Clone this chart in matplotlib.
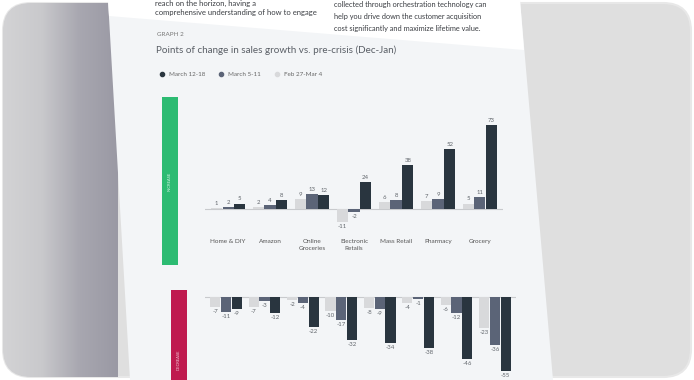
import matplotlib
matplotlib.use("Agg")
import matplotlib.pyplot as plt
import numpy as np
from matplotlib.patches import FancyBboxPatch, Polygon, Rectangle
from matplotlib.colors import LinearSegmentedColormap

plt.rcParams['font.family'] = ['Lato', 'DejaVu Sans']

# ---------------- data ----------------
series_labels = ["March 12-18", "March 5-11", "Feb 27-Mar 4"]
top_categories = ["Home & DIY", "Amazon", "Online\nGroceries", "Electronic\nRetails",
                  "Mass Retail", "Pharmacy", "Grocery"]
top_feb = [1, 2, 9, -11, 6, 7, 5]
top_mar5 = [2, 4, 13, -2, 8, 9, 11]
top_mar12 = [5, 8, 12, 24, 38, 52, 73]

bottom_feb = [-7, -7, -2, -10, -8, -4, -6, -23]
bottom_mar5 = [-11, -3, -4, -17, -9, -1, -12, -36]
bottom_mar12 = [-9, -12, -22, -32, -34, -38, -46, -55]

c_dark = "#29353f"
c_mid = "#5b6477"
c_light = "#d8d9db"
page_bg = "#f3f5f7"
txt = "#60656b"

W, H = 694, 380
fig = plt.figure(figsize=(W / 100, H / 100), dpi=100)
fig.patch.set_facecolor("white")

# background axes in pixel coordinates
bg = fig.add_axes([0, 0, 1, 1])
bg.set_xlim(0, W)
bg.set_ylim(H, 0)
bg.axis("off")

frame = FancyBboxPatch((3, 3), W - 6, H - 6, boxstyle="round,pad=0,rounding_size=28",
                       facecolor="#dfdfdf", edgecolor="#e8e8e8", lw=1.5, zorder=0)
bg.add_patch(frame)
grad = np.linspace(0, 1, 200)[None, :]
cm = LinearSegmentedColormap.from_list("g", ["#d3d3d5", "#c9c9cc", "#a8a7b0", "#9a99a4"])
im = bg.imshow(grad, extent=(3, 118, 377, 3), aspect="auto", cmap=cm, zorder=1)
im.set_clip_path(frame)

# page
page = Polygon([(108, 0), (520, 0), (553, 380), (130, 380)], closed=True,
               facecolor=page_bg, edgecolor="none", zorder=2)
bg.add_patch(page)
header = Polygon([(108, 0), (520, 0), (524, 50), (109, 16)], closed=True,
                 facecolor="white", edgecolor="none", zorder=3)
bg.add_patch(header)

# header text
hc = "#3a3d42"
bg.text(155, 3, "reach on the horizon, having a", fontsize=5.5, color=hc, va="center", zorder=4)
bg.text(155, 12, "comprehensive understanding of how to engage", fontsize=5.5, color=hc,
        va="center", zorder=4)
bg.text(334, 5, "collected through orchestration technology can", fontsize=5.3, color=hc,
        va="center", zorder=4)
bg.text(334, 17, "help you drive down the customer acquisition", fontsize=5.3, color=hc,
        va="center", zorder=4)
bg.text(334, 29, "cost significantly and maximize lifetime value.", fontsize=5.3, color=hc,
        va="center", zorder=4)

bg.text(157, 34, "GRAPH 2", fontsize=4.5, color="#777", va="center", zorder=4)
bg.text(156, 50, "Points of change in sales growth vs. pre-crisis (Dec-Jan)", fontsize=7.1,
        color="#5a5f66", va="center", zorder=4)

# legend
leg_x = [162, 221, 277]
leg_c = [c_dark, c_mid, c_light]
for x, c, lab in zip(leg_x, leg_c, series_labels):
    bg.plot([x], [74], "o", ms=3, color=c, zorder=4)
    bg.text(x + 7, 74, lab, fontsize=4.5, color="#666", va="center", zorder=4)

# side tags
bg.add_patch(Rectangle((162, 97), 16, 168, facecolor="#2cbb72", edgecolor="none", zorder=4))
bg.text(170, 181, "INCREASE", rotation=90, fontsize=3, color="#d8f3e5", ha="center",
        va="center", zorder=5)
bg.add_patch(Rectangle((171, 290), 16, 90, facecolor="#bf1a4f", edgecolor="none", zorder=4))
bg.text(179, 360, "DECREASE", rotation=90, fontsize=3, color="#f1c9d6", ha="center",
        va="center", zorder=5)


def px_axes(x0, y0, x1, y1):
    return fig.add_axes([x0 / W, 1 - y1 / H, (x1 - x0) / W, (y1 - y0) / H])


def draw(ax, cats_n, feb, mar5, mar12, ylim, labels=None):
    x = np.arange(cats_n)
    w = 0.28
    groups = [(feb, c_light, -w), (mar5, c_mid, 0), (mar12, c_dark, w)]
    for vals, c, off in groups:
        bars = ax.bar(x + off, vals, width=w * 0.95, color=c, zorder=3)
        for b, v in zip(bars, vals):
            if v >= 0:
                ax.annotate(str(v), (b.get_x() + b.get_width() / 2, v), xytext=(0, 1.5),
                            textcoords="offset points", ha="center", va="bottom",
                            fontsize=4.3, color=txt)
            else:
                ax.annotate(str(v), (b.get_x() + b.get_width() / 2, v), xytext=(0, -1.5),
                            textcoords="offset points", ha="center", va="top",
                            fontsize=4.3, color=txt)
    ax.axhline(0, color="#c8cacd", lw=0.8, zorder=2)
    ax.set_xlim(-0.55, cats_n - 0.45)
    ax.set_ylim(*ylim)
    ax.axis("off")
    if labels is not None:
        for xi, lab in zip(x, labels):
            ax.annotate(lab, (xi, 0), xytext=(0, -21), textcoords="offset points",
                        ha="center", va="top", fontsize=4.6, color="#555",
                        linespacing=1.6, annotation_clip=False)


ax1 = px_axes(205, 118, 503, 229)
draw(ax1, len(top_categories), top_feb, top_mar5, top_mar12, (-17, 79), top_categories)

ax2 = px_axes(205, 292, 516, 380)
draw(ax2, len(bottom_feb), bottom_feb, bottom_mar5, bottom_mar12, (-62, 4))

fig.savefig("out.png", dpi=100, facecolor=fig.get_facecolor())
